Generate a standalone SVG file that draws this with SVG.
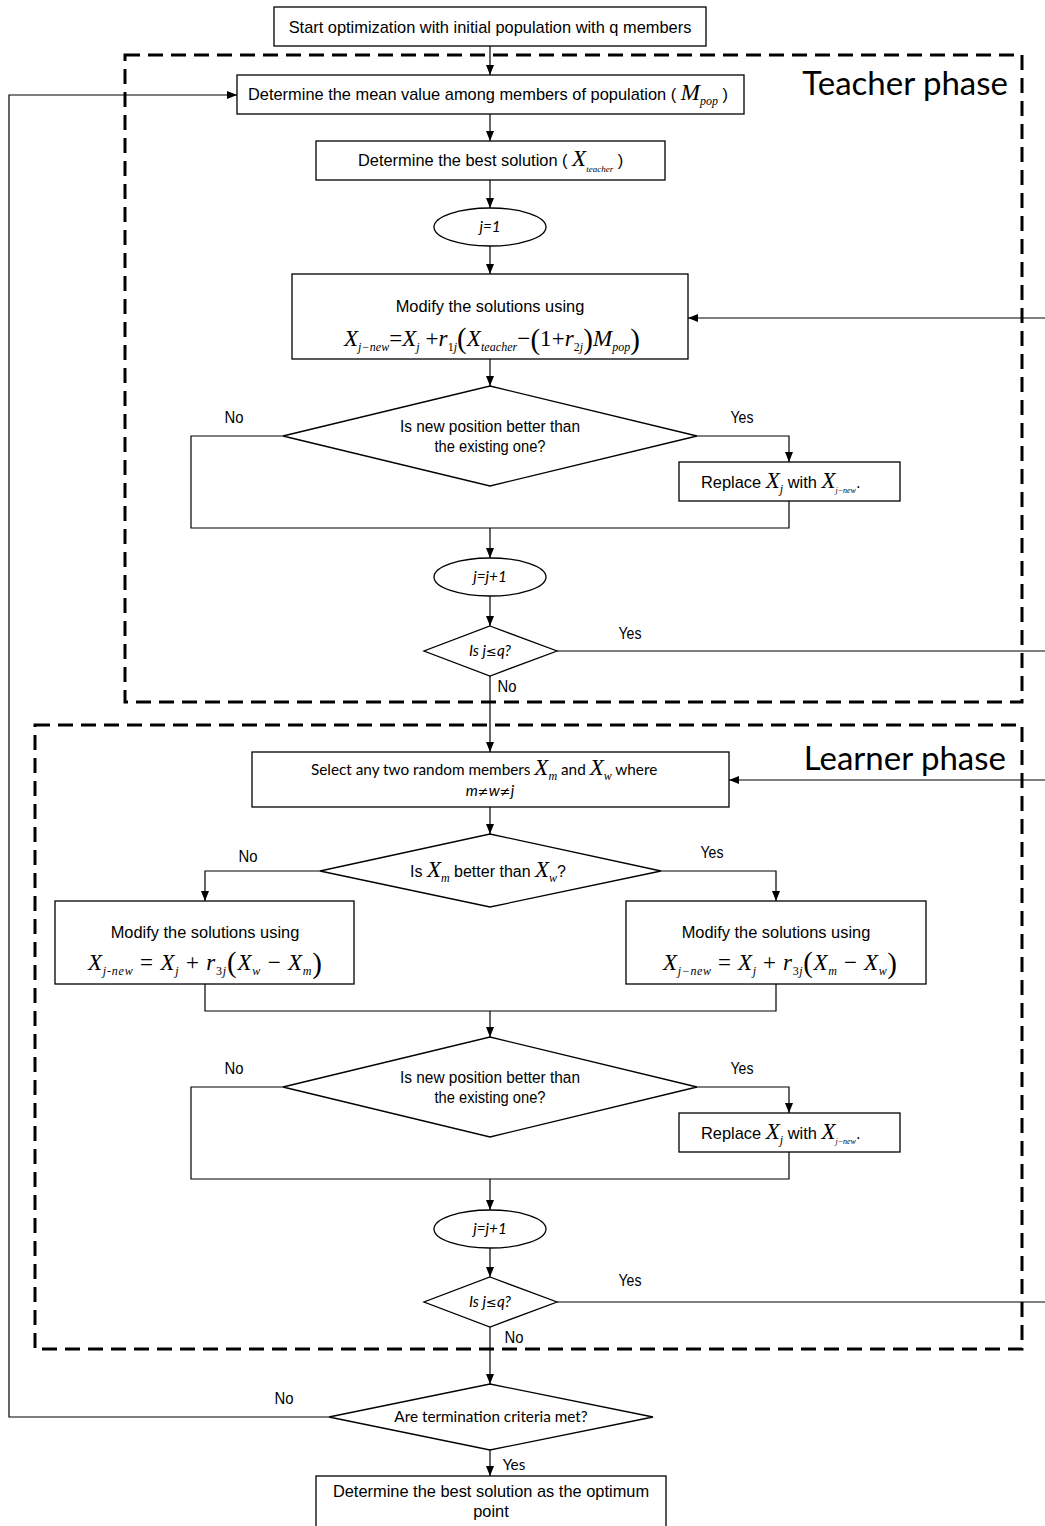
<svg xmlns="http://www.w3.org/2000/svg" width="1045" height="1526" viewBox="0 0 1045 1526">
<defs>
<marker id="ah" viewBox="0 0 10 8" refX="10" refY="4" markerWidth="10" markerHeight="8" markerUnits="userSpaceOnUse" orient="auto"><path d="M0,0 L10,4 L0,8 z" fill="#000"/></marker>
<style>
.box{fill:#fff;stroke:#000;stroke-width:1.3}
.frame{fill:none;stroke:#000;stroke-width:3;stroke-dasharray:15 8}
.ln{fill:none;stroke:#000;stroke-width:1.2}
.ar{marker-end:url(#ah)}
.t{font-family:"Liberation Sans",Arial,sans-serif;font-size:16.4px;fill:#000}
.n{font-family:"Liberation Sans Narrow","Liberation Sans",Arial,sans-serif;font-size:16px;fill:#000}
.c{font-family:Lato,"Open Sans",sans-serif;font-size:15.3px;fill:#000}
.ph{font-family:Lato,"Open Sans",sans-serif;font-size:33px;fill:#000}
.m{font-family:"Liberation Serif","Times New Roman",serif;font-style:italic;font-size:23px}
.s{font-size:12px}
.u{font-style:normal}
.sym{font-family:"DejaVu Sans",sans-serif;font-size:13px}
</style>
</defs>
<rect width="1045" height="1526" fill="#fff"/>

<g id="frames">
<rect class="frame" x="125" y="55" width="897" height="647"/>
<text class="ph" x="1008" y="95" text-anchor="end">Teacher phase</text>
<rect class="frame" x="35" y="725" width="987" height="624"/>
<text class="ph" x="1006" y="770" text-anchor="end">Learner phase</text>
</g>

<g id="connectors">
<line class="ln ar" x1="490" y1="46" x2="490" y2="75"/>
<line class="ln ar" x1="490" y1="114" x2="490" y2="141"/>
<line class="ln ar" x1="490" y1="180" x2="490" y2="208"/>
<line class="ln ar" x1="490" y1="246" x2="490" y2="274"/>
<line class="ln ar" x1="490" y1="359" x2="490" y2="386"/>
<polyline class="ln ar" points="697,436 789,436 789,462"/>
<polyline class="ln" points="283,436 191,436 191,528 789,528 789,501"/>
<line class="ln ar" x1="490" y1="528" x2="490" y2="558"/>
<line class="ln ar" x1="490" y1="596" x2="490" y2="626"/>
<polyline class="ln ar" points="557,651 1047,651 1047,318 688,318"/>
<line class="ln ar" x1="490" y1="676" x2="490" y2="752"/>
<line class="ln ar" x1="490" y1="807" x2="490" y2="834"/>
<polyline class="ln ar" points="320,871 205,871 205,901"/>
<polyline class="ln ar" points="661,871 776,871 776,901"/>
<polyline class="ln" points="205,984 205,1011 776,1011 776,984"/>
<line class="ln ar" x1="490" y1="1011" x2="490" y2="1037"/>
<polyline class="ln ar" points="697,1087 789,1087 789,1113"/>
<polyline class="ln" points="283,1087 191,1087 191,1179 789,1179 789,1152"/>
<line class="ln ar" x1="490" y1="1179" x2="490" y2="1210"/>
<line class="ln ar" x1="490" y1="1248" x2="490" y2="1277"/>
<polyline class="ln ar" points="557,1302 1047,1302 1047,780 729,780"/>
<line class="ln ar" x1="490" y1="1327" x2="490" y2="1384"/>
<polyline class="ln ar" points="329,1417 9,1417 9,95 237,95"/>
<line class="ln ar" x1="490" y1="1450" x2="490" y2="1476"/>
<text class="n" x="234" y="423" text-anchor="middle" textLength="19" lengthAdjust="spacingAndGlyphs">No</text>
<text class="n" x="742" y="423" text-anchor="middle" textLength="23" lengthAdjust="spacingAndGlyphs">Yes</text>
<text class="n" x="630" y="639" text-anchor="middle" textLength="23" lengthAdjust="spacingAndGlyphs">Yes</text>
<text class="n" x="507" y="692" text-anchor="middle" textLength="19" lengthAdjust="spacingAndGlyphs">No</text>
<text class="n" x="248" y="862" text-anchor="middle" textLength="19" lengthAdjust="spacingAndGlyphs">No</text>
<text class="n" x="712" y="858" text-anchor="middle" textLength="23" lengthAdjust="spacingAndGlyphs">Yes</text>
<text class="n" x="234" y="1074" text-anchor="middle" textLength="19" lengthAdjust="spacingAndGlyphs">No</text>
<text class="n" x="742" y="1074" text-anchor="middle" textLength="23" lengthAdjust="spacingAndGlyphs">Yes</text>
<text class="n" x="630" y="1286" text-anchor="middle" textLength="23" lengthAdjust="spacingAndGlyphs">Yes</text>
<text class="n" x="514" y="1343" text-anchor="middle" textLength="19" lengthAdjust="spacingAndGlyphs">No</text>
<text class="n" x="284" y="1404" text-anchor="middle" textLength="19" lengthAdjust="spacingAndGlyphs">No</text>
<text class="c" x="514" y="1470" text-anchor="middle">Yes</text>
</g>

<g id="start">
<rect class="box" x="274" y="7" width="432" height="39"/>
<text class="t" x="490" y="33" text-anchor="middle">Start optimization with initial population with q members</text>
</g>

<g id="mean">
<rect class="box" x="237" y="75" width="507" height="39"/>
<text class="t" x="248" y="100">Determine the mean value among members of population ( <tspan class="m">M<tspan class="s" dy="5">pop</tspan></tspan><tspan dy="-5"> )</tspan></text>
</g>

<g id="best">
<rect class="box" x="316" y="141" width="349" height="39"/>
<text class="t" x="358" y="166">Determine the best solution ( <tspan class="m">X<tspan style="font-size:9px" dy="6">teacher</tspan></tspan><tspan dy="-6"> )</tspan></text>
</g>

<g id="j1">
<ellipse class="box" cx="490" cy="227" rx="56" ry="19"/>
<text class="c" x="490" y="232" text-anchor="middle" font-style="italic">j=1</text>
</g>

<g id="modify1">
<rect class="box" x="292" y="274" width="396" height="85"/>
<text class="t" x="490" y="312" text-anchor="middle">Modify the solutions using</text>
<text class="m" x="344" y="346" textLength="296" lengthAdjust="spacing">X<tspan class="s" dy="5">j−new</tspan><tspan class="u" dy="-5">=</tspan>X<tspan class="s" dy="5">j</tspan><tspan class="u" dy="-5"> +</tspan>r<tspan class="s" dy="5"><tspan class="u">1</tspan>j</tspan><tspan class="u" font-size="29" dy="-3">(</tspan><tspan dy="-2">X</tspan><tspan class="s" dy="5">teacher</tspan><tspan class="u" dy="-5">−</tspan><tspan class="u" font-size="29" dy="3">(</tspan><tspan class="u" dy="-3">1+</tspan>r<tspan class="s" dy="5"><tspan class="u">2</tspan>j</tspan><tspan class="u" font-size="29" dy="-2">)</tspan><tspan dy="-3">M</tspan><tspan class="s" dy="5">pop</tspan><tspan class="u" font-size="29" dy="-2">)</tspan></text>
</g>

<g id="dec1">
<polygon class="box" points="490,386 697,436 490,486 283,436"/>
<text class="n" x="490" y="432" text-anchor="middle" textLength="180" lengthAdjust="spacingAndGlyphs">Is new position better than</text>
<text class="n" x="490" y="452" text-anchor="middle" textLength="111" lengthAdjust="spacingAndGlyphs">the existing one?</text>
</g>

<g id="replace1">
<rect class="box" x="679" y="462" width="221" height="39"/>
<text class="t" x="701" y="488">Replace <tspan class="m">X<tspan class="s" dy="5">j</tspan></tspan><tspan dy="-5"> with </tspan><tspan class="m">X<tspan style="font-size:8px" dy="5">j−new</tspan></tspan><tspan dy="-5">.</tspan></text>
</g>

<g id="inc1">
<ellipse class="box" cx="490" cy="577" rx="56" ry="19"/>
<text class="c" x="490" y="582" text-anchor="middle" font-style="italic">j=j+1</text>
</g>

<g id="check1">
<polygon class="box" points="490,626 557,651 490,676 424,651"/>
<text class="c" x="490" y="656" text-anchor="middle" font-style="italic">Is  j<tspan class="sym">≤</tspan>q?</text>
</g>

<g id="select">
<rect class="box" x="252" y="752" width="477" height="55"/>
<text class="c" x="311" y="775">Select any two random members <tspan class="m">X<tspan class="s" dy="5">m</tspan></tspan><tspan dy="-5">  and  </tspan><tspan class="m">X<tspan class="s" dy="5">w</tspan></tspan><tspan dy="-5"> where</tspan></text>
<text class="c" x="490" y="796" text-anchor="middle" font-style="italic">m<tspan class="sym">≠</tspan>w<tspan class="sym">≠</tspan>j</text>
</g>

<g id="dec2">
<polygon class="box" points="490,834 661,871 490,907 320,871"/>
<text class="n" x="410" y="877">Is <tspan class="m">X<tspan class="s" dy="5">m</tspan></tspan><tspan dy="-5"> better than </tspan><tspan class="m">X<tspan class="s" dy="5">w</tspan></tspan><tspan dy="-5">?</tspan></text>
</g>

<g id="modifyL">
<rect class="box" x="55" y="901" width="299" height="83"/>
<text class="t" x="205" y="938" text-anchor="middle">Modify the solutions using</text>
<text class="m" x="88" y="970" textLength="234" lengthAdjust="spacing">X<tspan class="s" dy="5">j-new</tspan><tspan class="u" dy="-5"> = </tspan>X<tspan class="s" dy="5">j</tspan><tspan class="u" dy="-5"> + </tspan>r<tspan class="s" dy="5"><tspan class="u">3</tspan>j</tspan><tspan class="u" font-size="29" dy="-3">(</tspan><tspan dy="-2">X</tspan><tspan class="s" dy="5">w</tspan><tspan class="u" dy="-5"> − </tspan>X<tspan class="s" dy="5">m</tspan><tspan class="u" font-size="29" dy="-2">)</tspan></text>
</g>

<g id="modifyR">
<rect class="box" x="626" y="901" width="300" height="83"/>
<text class="t" x="776" y="938" text-anchor="middle">Modify the solutions using</text>
<text class="m" x="663" y="970" textLength="234" lengthAdjust="spacing">X<tspan class="s" dy="5">j−new</tspan><tspan class="u" dy="-5"> = </tspan>X<tspan class="s" dy="5">j</tspan><tspan class="u" dy="-5"> + </tspan>r<tspan class="s" dy="5"><tspan class="u">3</tspan>j</tspan><tspan class="u" font-size="29" dy="-3">(</tspan><tspan dy="-2">X</tspan><tspan class="s" dy="5">m</tspan><tspan class="u" dy="-5"> − </tspan>X<tspan class="s" dy="5">w</tspan><tspan class="u" font-size="29" dy="-2">)</tspan></text>
</g>

<g id="dec3">
<polygon class="box" points="490,1037 697,1087 490,1137 283,1087"/>
<text class="n" x="490" y="1083" text-anchor="middle" textLength="180" lengthAdjust="spacingAndGlyphs">Is new position better than</text>
<text class="n" x="490" y="1103" text-anchor="middle" textLength="111" lengthAdjust="spacingAndGlyphs">the existing one?</text>
</g>

<g id="replace2">
<rect class="box" x="679" y="1113" width="221" height="39"/>
<text class="t" x="701" y="1139">Replace <tspan class="m">X<tspan class="s" dy="5">j</tspan></tspan><tspan dy="-5"> with </tspan><tspan class="m">X<tspan style="font-size:8px" dy="5">j−new</tspan></tspan><tspan dy="-5">.</tspan></text>
</g>

<g id="inc2">
<ellipse class="box" cx="490" cy="1229" rx="56" ry="19"/>
<text class="c" x="490" y="1234" text-anchor="middle" font-style="italic">j=j+1</text>
</g>

<g id="check2">
<polygon class="box" points="490,1277 557,1302 490,1327 424,1302"/>
<text class="c" x="490" y="1307" text-anchor="middle" font-style="italic">Is  j<tspan class="sym">≤</tspan>q?</text>
</g>

<g id="term">
<polygon class="box" points="490,1384 653,1417 490,1450 329,1417"/>
<text class="c" x="491" y="1422" text-anchor="middle">Are termination criteria met?</text>
</g>

<g id="end">
<rect class="box" x="316" y="1476" width="350" height="60"/>
<text class="t" x="491" y="1497" text-anchor="middle">Determine the best solution as the optimum</text>
<text class="t" x="491" y="1517" text-anchor="middle">point</text>
</g>
</svg>
